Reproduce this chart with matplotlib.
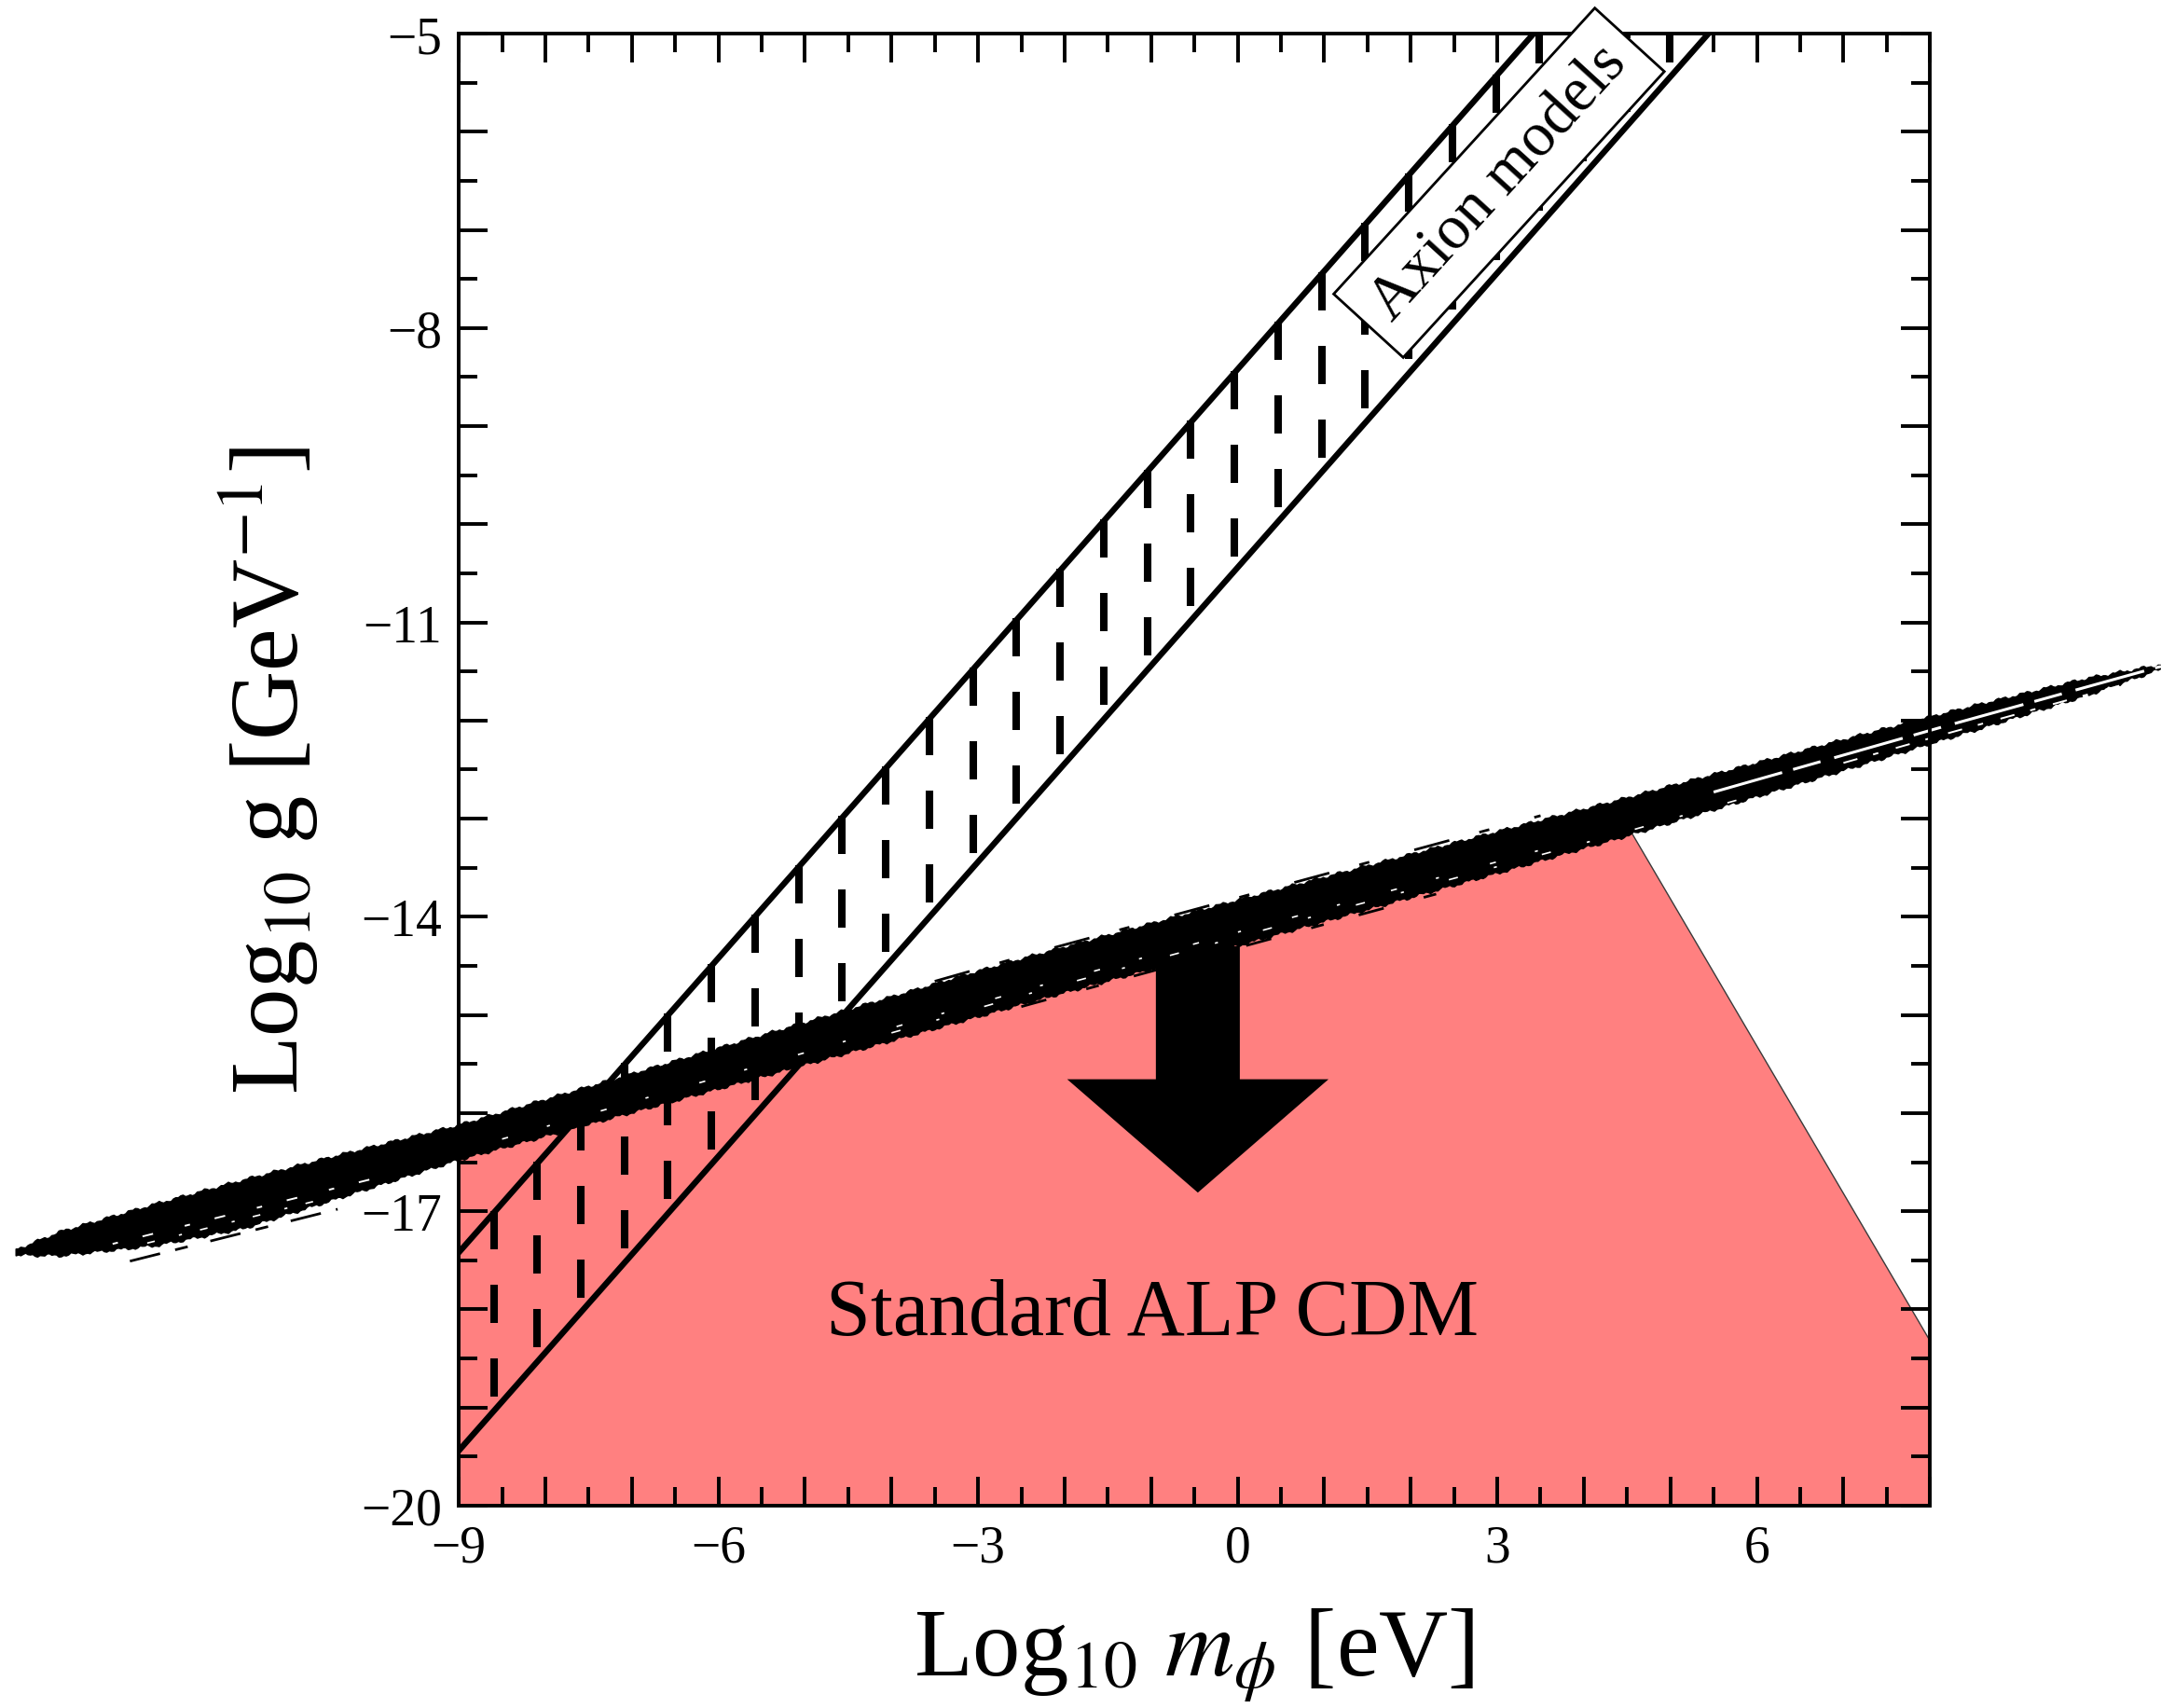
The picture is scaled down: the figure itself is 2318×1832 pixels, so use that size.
import numpy as np
import matplotlib
matplotlib.use('Agg')
import matplotlib.pyplot as plt
from matplotlib.collections import LineCollection
from matplotlib.ticker import MultipleLocator, FuncFormatter

plt.rcParams['font.family'] = ['Liberation Serif', 'DejaVu Serif']
plt.rcParams['mathtext.fontset'] = 'stix'

# axion models: g proportional to m, band between two lines
axion_logm = [-9.0, 8.0]
axion_logg_hi = [-17.42, -0.42]
axion_logg_lo = [-19.44, -2.44]

# standard ALP CDM relation (smeared line)
cdm_logm = [-14.12, -9.0, -2.44, 4.5, 8.0, 10.66]
cdm_logg = [-17.42, -16.29, -14.64, -12.98, -12.10, -11.45]

# shaded region below the CDM line
region_logm = [-9.0, 4.51, 8.0, 8.0, -9.0]
region_logg = [-16.41, -13.08, -18.32, -20.0, -20.0]

# downward arrow
arrow_logm = -0.46
arrow_logg = [-14.3, -16.81]

x_ticklabels = [-9, -6, -3, 0, 3, 6]
y_ticklabels = [-20, -17, -14, -11, -8, -5]


def fmt_tick(labels):
    def f(v, pos):
        k = int(round(v))
        if abs(v - k) < 1e-6 and k in labels:
            return str(k).replace('-', '\u2212')
        return ''
    return FuncFormatter(f)


fig = plt.figure(figsize=(11.59, 9.165), dpi=200)
ax = fig.add_axes([0.2123, 0.1184, 0.6808, 0.8614])
ax.set_xlim(-9, 8)
ax.set_ylim(-20, -5)

# red region
ax.fill(region_logm, region_logg, color='#ff8080', lw=0, zorder=1)
ax.plot(region_logm[1:3], region_logg[1:3], color='#3a3a3a', lw=0.5, zorder=1.2)

# vertical dashed hatching inside the axion band
segs = []
for x in np.arange(-8.597, 5.1, 0.5035):
    top = np.interp(x, axion_logm, axion_logg_hi) + 0.02
    bot = np.interp(x, axion_logm, axion_logg_lo)
    y = top
    while y > bot:
        segs.append([(x, y), (x, max(y - 0.387, bot))])
        y -= 0.751
ax.add_collection(LineCollection(segs, colors='k', linewidths=2.9,
                                 capstyle='butt', zorder=2))

ax.plot(axion_logm, axion_logg_hi, color='k', lw=2.3, zorder=2.2)
ax.plot(axion_logm, axion_logg_lo, color='k', lw=2.3, zorder=2.2)

# arrow pointing into the region
ax.arrow(arrow_logm, arrow_logg[0], 0, arrow_logg[1] - arrow_logg[0],
         width=0.97, head_width=3.02, head_length=1.155,
         length_includes_head=True, fc='k', ec='none', zorder=3)

# smeared CDM line: black core with ragged edges and a few white flecks
bx = np.linspace(cdm_logm[0], cdm_logm[-1], 900)
bc = np.interp(bx, cdm_logm, cdm_logg)
kx = [-14.12, -13.6, -12.5, -11.5, -10.5, -9.0, -6.0, -3.0, 0.0, 3.0, 5.0, 7.0, 8.5, 9.8, 10.66]
k_top = [0.03, 0.1, 0.14, 0.16, 0.17, 0.17, 0.2, 0.23, 0.23, 0.21, 0.19, 0.16, 0.13, 0.09, 0.02]
k_bot = [-0.02, -0.14, -0.28, -0.33, -0.27, -0.18, -0.21, -0.23, -0.23, -0.21, -0.18, -0.15, -0.12, -0.08, -0.02]
rough = 0.012 * np.sin(23 * bx) + 0.009 * np.sin(71 * bx + 0.7)
upper = bc + np.interp(bx, kx, k_top) + rough
lower = bc + np.interp(bx, kx, k_bot) - rough
ax.fill_between(bx, lower, upper, color='k', lw=0.6, edgecolor='k',
                zorder=4, clip_on=False)

streaks = [
    (-0.16, -13.0, -9.8, 0.7, (3, 14, 6, 18)),
    (-0.24, -12.6, -10.6, 0.6, (5, 16, 2, 12)),
    (-0.10, -8.5, 4.0, 0.6, (4, 26, 2, 34)),
    (-0.15, -4.0, 6.0, 0.6, (6, 24, 2, 30)),
    (0.0, 5.5, 10.7, 1.1, (25, 4, 10, 5)),
    (-0.08, 7.0, 10.5, 0.7, (8, 9, 3, 10)),
]
for off, x0, x1, lw, dash in streaks:
    sx = np.linspace(x0, x1, 200)
    ax.plot(sx, np.interp(sx, cdm_logm, cdm_logg) + off, color='white', lw=lw,
            dashes=dash, zorder=4.2, clip_on=False, solid_capstyle='butt')

wisps = [
    (0.25, -3.5, 3.5, 1.0, (14, 12, 4, 18)),
    (-0.26, -2.5, 2.5, 1.0, (10, 16, 5, 14)),
    (-0.38, -12.8, -10.4, 1.0, (12, 6, 5, 9)),
]
for off, x0, x1, lw, dash in wisps:
    sx = np.linspace(x0, x1, 200)
    ax.plot(sx, np.interp(sx, cdm_logm, cdm_logg) + off, color='k', lw=lw,
            dashes=dash, zorder=4.1, clip_on=False)

# labels inside the plot
ax.text(3.02, -6.52, 'Axion models', rotation=47.6, rotation_mode='anchor',
        ha='center', va='center', fontsize=24, zorder=6,
        bbox=dict(boxstyle='square,pad=0.3', fc='white', ec='k', lw=1.0))
ax.text(-0.99, -18.25, 'Standard ALP CDM', ha='center', va='baseline',
        fontsize=31, zorder=6)

# axes, ticks
for s in ax.spines.values():
    s.set_linewidth(1.4)
    s.set_zorder(5)
ax.xaxis.set_major_locator(MultipleLocator(1))
ax.xaxis.set_minor_locator(MultipleLocator(0.5))
ax.yaxis.set_major_locator(MultipleLocator(1))
ax.yaxis.set_minor_locator(MultipleLocator(0.5))
ax.xaxis.set_major_formatter(fmt_tick(x_ticklabels))
ax.yaxis.set_major_formatter(fmt_tick(y_ticklabels))
ax.tick_params(which='both', direction='in', top=True, right=True, width=1.4)
ax.tick_params(which='major', length=11.2, labelsize=20)
ax.tick_params(which='minor', length=7.2)
ax.tick_params(axis='x', pad=7)
ax.tick_params(axis='y', pad=6.5)

ax.set_xlabel(r'Log$_{10}$ $m_\phi$ [eV]', fontsize=37, va='baseline')
ax.xaxis.set_label_coords(0.5, -0.1153)
ax.set_ylabel(r'Log$_{10}$ g [GeV$^{-1}$]', fontsize=37, va='baseline')
ax.yaxis.set_label_coords(-0.109, 0.5)

fig.savefig('out.png', dpi=200)
